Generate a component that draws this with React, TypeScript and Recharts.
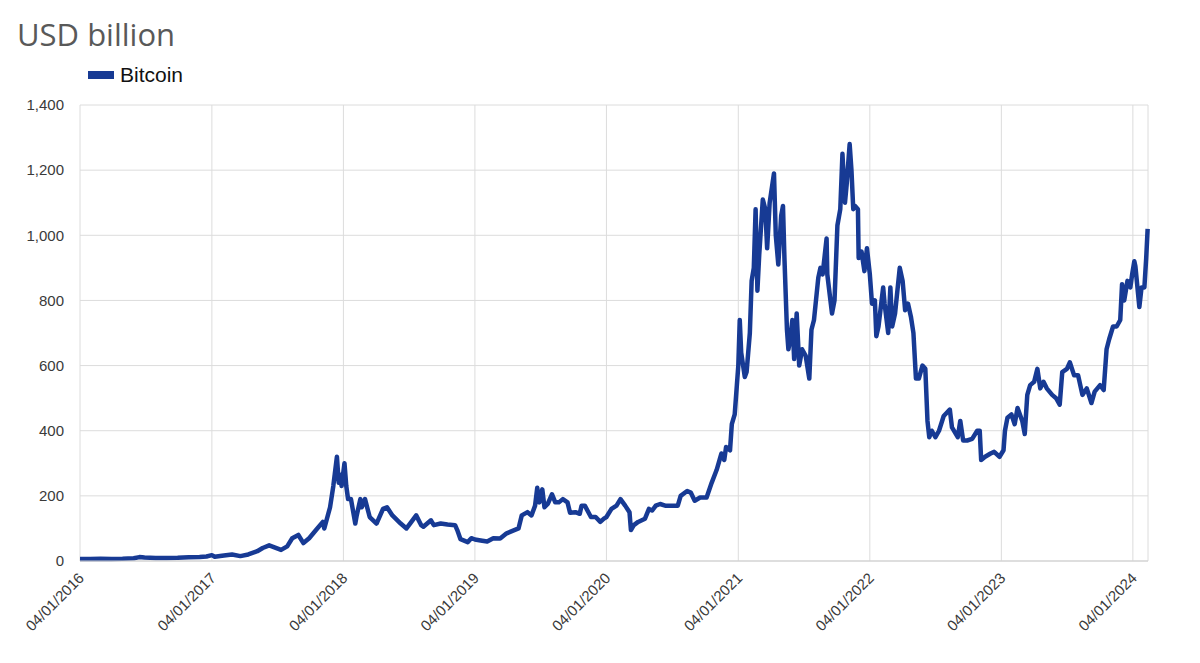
import * as React from 'react'
import { LineChart, Line, XAxis, YAxis, CartesianGrid } from 'recharts'

const dates: string[] = [
    '2016-01-04', '2016-02-01', '2016-03-01', '2016-04-01', '2016-05-01', '2016-06-01', '2016-06-17', '2016-07-01',
    '2016-08-01', '2016-09-01', '2016-10-01', '2016-11-01', '2016-12-01', '2016-12-20',
    '2017-01-04', '2017-01-12', '2017-02-01', '2017-03-01', '2017-03-24', '2017-04-15', '2017-05-10', '2017-05-25',
    '2017-06-12', '2017-07-15', '2017-08-01', '2017-08-15', '2017-09-01', '2017-09-15', '2017-10-01', '2017-10-20',
    '2017-11-08', '2017-11-12', '2017-11-28', '2017-12-07', '2017-12-17', '2017-12-22', '2017-12-26', '2017-12-30',
    '2018-01-07', '2018-01-12', '2018-01-17', '2018-01-25', '2018-02-06', '2018-02-10', '2018-02-20', '2018-02-24',
    '2018-03-05', '2018-03-18', '2018-04-06', '2018-04-24', '2018-05-05', '2018-05-20', '2018-06-12', '2018-06-28',
    '2018-07-08', '2018-07-25', '2018-08-08', '2018-08-14', '2018-09-04', '2018-09-12', '2018-10-01', '2018-10-20',
    '2018-11-10', '2018-11-16', '2018-11-25', '2018-12-15', '2018-12-25',
    '2019-01-04', '2019-01-20', '2019-02-07', '2019-02-24', '2019-03-15', '2019-04-02', '2019-04-20', '2019-05-05',
    '2019-05-14', '2019-05-30', '2019-06-10', '2019-06-20', '2019-06-26', '2019-07-02', '2019-07-10', '2019-07-16',
    '2019-07-25', '2019-08-06', '2019-08-15', '2019-08-25', '2019-09-05', '2019-09-18', '2019-09-25', '2019-10-10',
    '2019-10-22', '2019-10-27', '2019-11-05', '2019-11-22', '2019-12-05', '2019-12-18', '2019-12-28',
    '2020-01-04', '2020-01-18', '2020-02-01', '2020-02-12', '2020-02-25', '2020-03-08', '2020-03-12', '2020-03-20',
    '2020-04-01', '2020-04-20', '2020-05-01', '2020-05-10', '2020-05-20', '2020-06-01', '2020-06-15', '2020-07-01',
    '2020-07-20', '2020-07-28', '2020-08-15', '2020-08-25', '2020-09-05', '2020-09-20', '2020-10-08', '2020-10-22',
    '2020-11-05', '2020-11-18', '2020-11-26', '2020-12-01', '2020-12-12', '2020-12-17', '2020-12-25', '2020-12-31',
    '2021-01-04', '2021-01-08', '2021-01-12', '2021-01-22', '2021-01-27', '2021-02-05', '2021-02-10', '2021-02-16',
    '2021-02-21', '2021-02-26', '2021-03-03', '2021-03-13', '2021-03-20', '2021-03-25', '2021-04-01', '2021-04-13',
    '2021-04-18', '2021-04-25', '2021-05-03', '2021-05-08', '2021-05-12', '2021-05-19', '2021-05-23', '2021-05-28',
    '2021-06-03', '2021-06-08', '2021-06-15', '2021-06-22', '2021-06-30', '2021-07-10', '2021-07-20', '2021-07-26',
    '2021-08-02', '2021-08-14', '2021-08-20', '2021-08-26', '2021-09-06', '2021-09-08', '2021-09-21', '2021-09-28',
    '2021-10-06', '2021-10-14', '2021-10-20', '2021-10-27', '2021-11-01', '2021-11-09', '2021-11-14', '2021-11-19',
    '2021-11-24', '2021-12-02', '2021-12-04', '2021-12-12', '2021-12-20', '2021-12-27',
    '2022-01-04', '2022-01-10', '2022-01-18', '2022-01-22', '2022-01-28', '2022-02-10', '2022-02-14', '2022-02-24',
    '2022-03-02', '2022-03-07', '2022-03-15', '2022-03-28', '2022-04-05', '2022-04-12', '2022-04-20', '2022-04-28',
    '2022-05-05', '2022-05-12', '2022-05-20', '2022-05-30', '2022-06-07', '2022-06-13', '2022-06-18', '2022-06-25',
    '2022-07-05', '2022-07-15', '2022-07-28', '2022-08-14', '2022-08-20', '2022-09-05', '2022-09-12', '2022-09-20',
    '2022-10-01', '2022-10-15', '2022-10-29', '2022-11-05', '2022-11-09', '2022-11-20', '2022-12-05', '2022-12-15',
    '2022-12-30',
    '2023-01-10', '2023-01-14', '2023-01-21', '2023-02-01', '2023-02-10', '2023-02-18', '2023-03-03', '2023-03-10',
    '2023-03-17', '2023-03-25', '2023-04-05', '2023-04-14', '2023-04-22', '2023-05-01', '2023-05-10', '2023-05-25',
    '2023-06-05', '2023-06-15', '2023-06-22', '2023-07-05', '2023-07-13', '2023-07-25', '2023-08-05', '2023-08-17',
    '2023-08-29', '2023-09-11', '2023-09-20', '2023-10-05', '2023-10-15', '2023-10-23', '2023-10-30', '2023-11-10',
    '2023-11-20', '2023-11-30', '2023-12-05', '2023-12-11', '2023-12-20', '2023-12-28',
    '2024-01-02', '2024-01-08', '2024-01-11', '2024-01-22', '2024-01-28', '2024-02-05', '2024-02-10', '2024-02-14',
]

const bitcoin: number[] = [
    6.5, 6, 6.7, 6.5, 7, 8.5, 12, 10.5,
    9, 9.5, 9.8, 11.5, 12, 14,
    18, 13, 16, 20, 15, 20, 30, 40,
    48, 34, 45, 70, 80, 55, 70, 95,
    120, 100, 165, 230, 320, 240, 265, 230,
    300, 230, 190, 190, 115, 140, 190, 165,
    190, 135, 115, 160, 165, 140, 115, 100,
    115, 140, 110, 105, 125, 110, 115, 112,
    110, 95, 67, 58, 70,
    66, 63, 60, 70, 69, 85, 93, 100,
    140, 150, 140, 170, 225, 180, 220, 165,
    175, 205, 180, 180, 190, 180, 148, 150,
    145, 170, 170, 135, 135, 120, 130,
    135, 160, 170, 190, 170, 150, 95, 110,
    120, 130, 160, 155, 170, 175, 170, 170,
    170, 200, 215, 210, 185, 195, 195, 240,
    280, 330, 310, 350, 340, 420, 450, 540,
    600, 740, 640, 565, 580, 700, 860, 900,
    1080, 830, 940, 1110, 1080, 960, 1100, 1190,
    1000, 910, 1060, 1090, 930, 710, 650, 680,
    740, 620, 760, 600, 650, 630, 560, 710,
    740, 870, 900, 880, 990, 880, 760, 800,
    1030, 1080, 1250, 1100, 1160, 1280, 1200, 1080,
    1090, 1080, 930, 950, 890, 960,
    880, 790, 800, 690, 720, 840, 790, 700,
    840, 720, 760, 900, 860, 770, 790, 750,
    700, 560, 560, 600, 590, 430, 380, 400,
    380, 400, 445, 465, 410, 380, 430, 370,
    370, 375, 400, 400, 310, 320, 330, 335,
    320,
    340, 400, 440, 450, 420, 470, 430, 390,
    510, 540, 550, 590, 530, 550, 530, 510,
    500, 480, 580, 590, 610, 570, 570, 510,
    530, 485, 520, 540, 525, 650, 680, 720,
    720, 740, 850, 800, 860, 840,
    880, 920, 905, 780, 840, 840, 930, 1020,
]

const xTickDates: string[] = [
    '2016-01-04', '2017-01-04', '2018-01-04', '2019-01-04', '2020-01-04',
    '2021-01-04', '2022-01-04', '2023-01-04', '2024-01-04',
]
const yTicks: number[] = [0, 200, 400, 600, 800, 1000, 1200, 1400]

const toTime = (d: string) => Date.parse(d + 'T00:00:00Z')

const data = dates.map((d, i) => ({ t: toTime(d), bitcoin: bitcoin[i] }))
const xTicks = xTickDates.map(toTime)

const formatDate = (t: number) => {
    const d = new Date(t)
    const dd = String(d.getUTCDate()).padStart(2, '0')
    const mm = String(d.getUTCMonth() + 1).padStart(2, '0')
    return `${dd}/${mm}/${d.getUTCFullYear()}`
}

const LINE_COLOR = '#173a94'
const AXIS_FONT = '"Liberation Sans", Arial, sans-serif'

const DateTick = (props: any) => {
    const { x, y, payload } = props
    return (
        <text
            x={x + 5}
            y={y + 10}
            transform={`rotate(-45, ${x + 5}, ${y + 10})`}
            textAnchor="end"
            fontSize={15}
            fontFamily={AXIS_FONT}
            fill="#3a3a3a"
        >
            {formatDate(payload.value)}
        </text>
    )
}

export default function App() {
    return (
        <div style={{ position: 'absolute', left: 0, top: 0, width: 1200, height: 663, background: '#fff' }}>
            <div
                style={{
                    position: 'absolute', left: 17, top: 19, lineHeight: 1,
                    fontFamily: '"Open Sans", sans-serif', fontSize: 31, color: '#595959',
                }}
            >
                USD billion
            </div>
            <div
                style={{
                    position: 'absolute', left: 88, top: 64, display: 'flex', alignItems: 'center',
                    fontFamily: AXIS_FONT, fontSize: 21, color: '#111', lineHeight: 1,
                }}
            >
                <span style={{ display: 'inline-block', width: 26, height: 8, background: LINE_COLOR, marginRight: 6 }} />
                Bitcoin
            </div>
            <LineChart width={1200} height={663} data={data} margin={{ top: 105, right: 52, bottom: 12, left: 8 }}>
                <CartesianGrid stroke="#dcdcdc" strokeWidth={1} />
                <XAxis
                    dataKey="t"
                    type="number"
                    scale="time"
                    domain={[toTime('2016-01-04'), toTime('2024-02-15')]}
                    ticks={xTicks}
                    tick={<DateTick />}
                    tickLine={false}
                    axisLine={{ stroke: '#cfcfcf' }}
                    height={90}
                    interval={0}
                />
                <YAxis
                    domain={[0, 1400]}
                    ticks={yTicks}
                    width={72}
                    tickLine={false}
                    axisLine={false}
                    tickMargin={10}
                    tickFormatter={(v: number) => v.toLocaleString('en-US')}
                    tick={{ fontSize: 15, fontFamily: AXIS_FONT, fill: '#3a3a3a' }}
                />
                <Line
                    type="linear"
                    dataKey="bitcoin"
                    name="Bitcoin"
                    stroke={LINE_COLOR}
                    strokeWidth={4.5}
                    dot={false}
                    isAnimationActive={false}
                    strokeLinejoin="round"
                />
            </LineChart>
        </div>
    )
}
